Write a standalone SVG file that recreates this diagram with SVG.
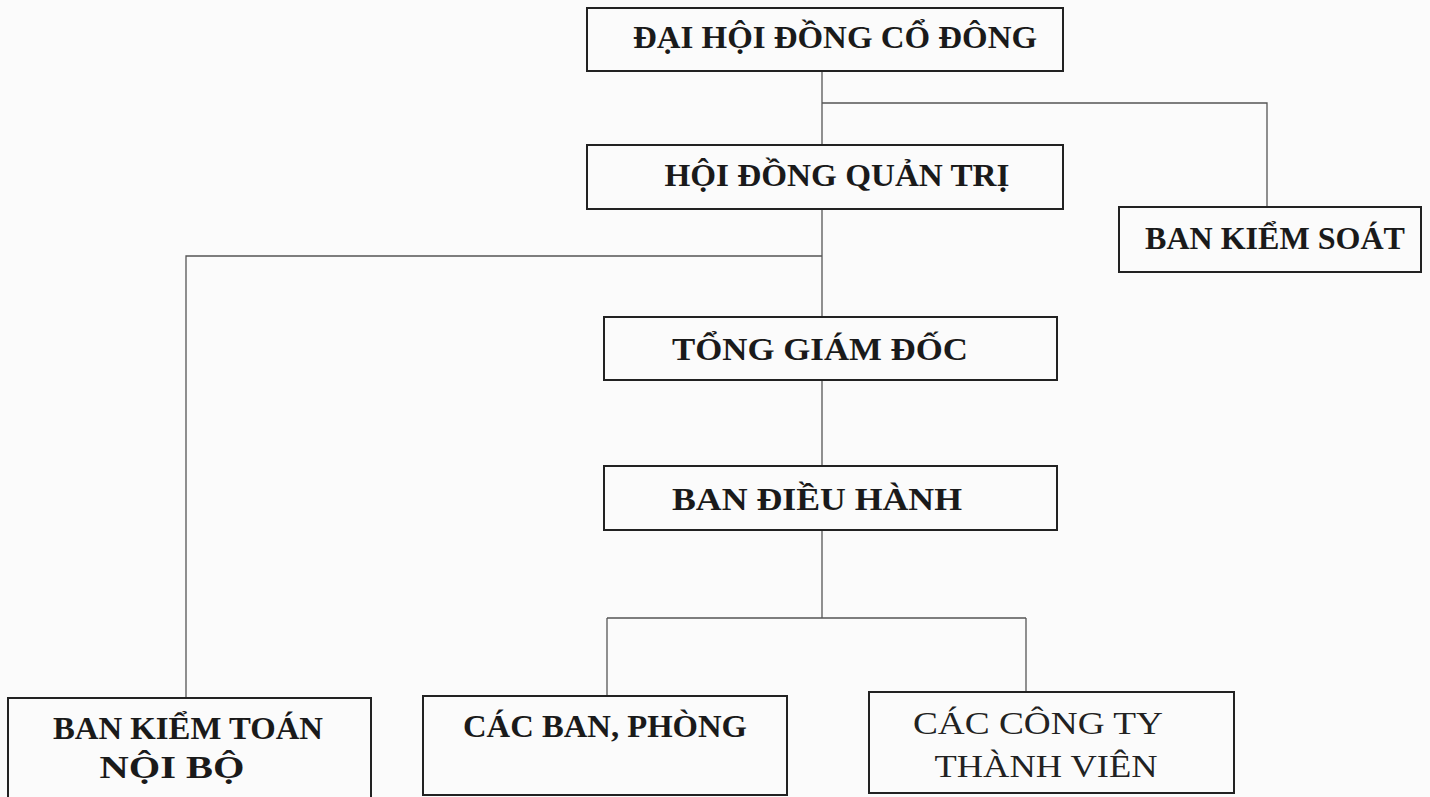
<svg xmlns="http://www.w3.org/2000/svg" width="1430" height="797" viewBox="0 0 1430 797">
<style>
.box{fill:none;stroke:#222;stroke-width:2}
.ln{fill:none;stroke:#555;stroke-width:1.3}
.t{font-family:"Liberation Serif","Times New Roman",serif;font-size:31px;font-weight:bold;fill:#1a1a1a;text-anchor:middle}
.lt{font-weight:normal;fill:#222}
</style>
<rect x="0" y="0" width="1430" height="797" fill="#fbfbfb"/>
<g id="connectors">
<path class="ln" d="M822 71 V145"/>
<path class="ln" d="M822 103 H1267 V207"/>
<path class="ln" d="M822 209 V317"/>
<path class="ln" d="M822 256 H186 V698"/>
<path class="ln" d="M822 380 V466"/>
<path class="ln" d="M822 530 V618"/>
<path class="ln" d="M607 618 H1026"/>
<path class="ln" d="M607 618 V696"/>
<path class="ln" d="M1026 618 V692"/>
</g>
<g id="dhdcd">
<rect class="box" x="587" y="8" width="476" height="63"/>
<text class="t" x="835" y="48" textLength="404" lengthAdjust="spacingAndGlyphs">ĐẠI HỘI ĐỒNG CỔ ĐÔNG</text>
</g>
<g id="hdqt">
<rect class="box" x="587" y="145" width="476" height="64"/>
<text class="t" x="837" y="186" textLength="345" lengthAdjust="spacingAndGlyphs">HỘI ĐỒNG QUẢN TRỊ</text>
</g>
<g id="bks">
<rect class="box" x="1119" y="207" width="302" height="65"/>
<text class="t" x="1275" y="249" textLength="260" lengthAdjust="spacingAndGlyphs">BAN KIỂM SOÁT</text>
</g>
<g id="tgd">
<rect class="box" x="604" y="317" width="453" height="63"/>
<text class="t" x="820" y="360" textLength="296" lengthAdjust="spacingAndGlyphs">TỔNG GIÁM ĐỐC</text>
</g>
<g id="bdh">
<rect class="box" x="604" y="466" width="453" height="64"/>
<text class="t" x="817" y="510" textLength="290" lengthAdjust="spacingAndGlyphs">BAN ĐIỀU HÀNH</text>
</g>
<g id="bktnb">
<rect class="box" x="8" y="698" width="363" height="110"/>
<text class="t" x="188" y="739" textLength="270" lengthAdjust="spacingAndGlyphs">BAN KIỂM TOÁN</text>
<text class="t" x="172" y="778" textLength="145" lengthAdjust="spacingAndGlyphs">NỘI BỘ</text>
</g>
<g id="cbp">
<rect class="box" x="423" y="696" width="364" height="99"/>
<text class="t" x="605" y="737" textLength="284" lengthAdjust="spacingAndGlyphs">CÁC BAN, PHÒNG</text>
</g>
<g id="cctv">
<rect class="box" x="869" y="692" width="365" height="101"/>
<text class="t lt" x="1038" y="734" textLength="250" lengthAdjust="spacingAndGlyphs">CÁC CÔNG TY</text>
<text class="t lt" x="1046" y="777" textLength="223" lengthAdjust="spacingAndGlyphs">THÀNH VIÊN</text>
</g>
</svg>
